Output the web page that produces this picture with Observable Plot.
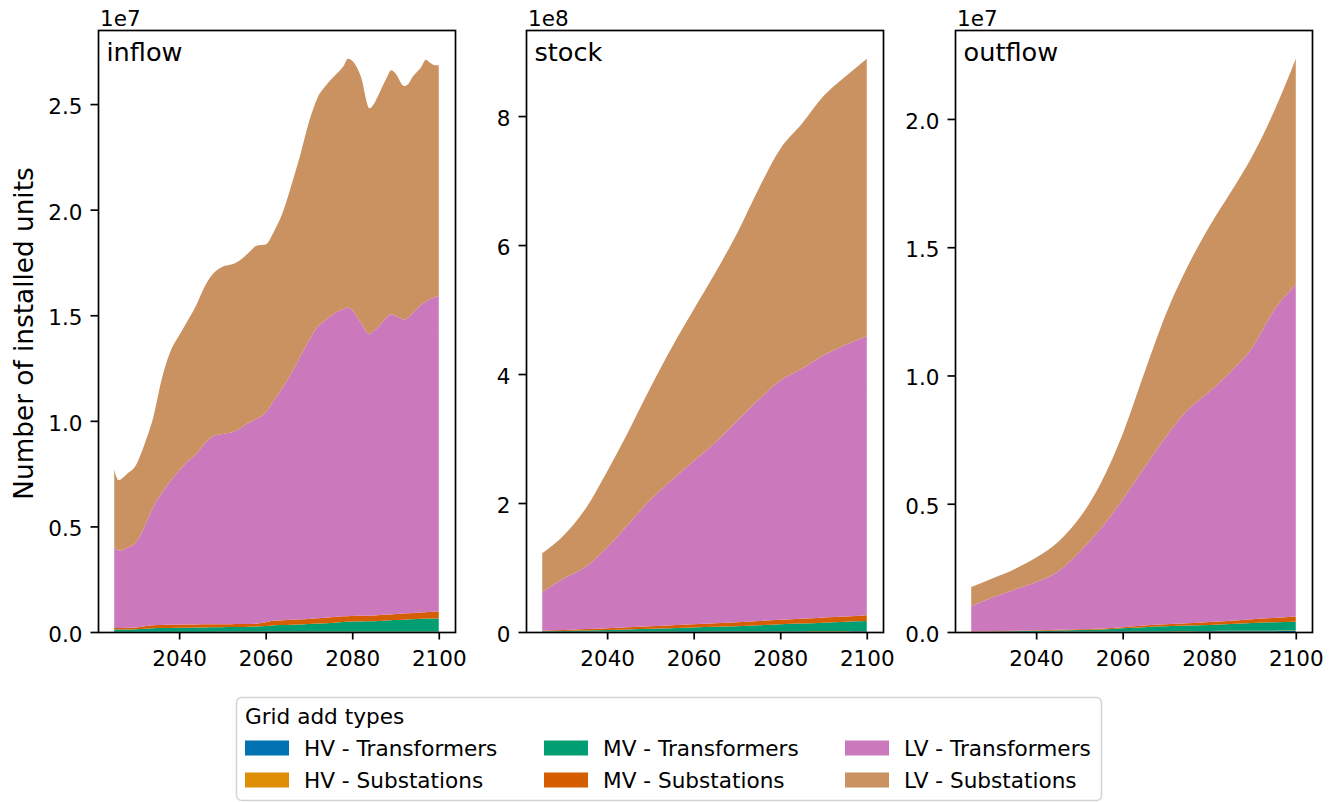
<!DOCTYPE html>
<html><head><meta charset="utf-8">
<script src="https://cdn.jsdelivr.net/npm/d3@7"></script>
<script src="https://cdn.jsdelivr.net/npm/@observablehq/plot@0.6"></script>
<style>
body{margin:0;background:#fff;}
#fig{position:relative;width:1334px;height:802px;overflow:hidden;font-family:"DejaVu Sans",sans-serif;background:#fff;}
</style></head><body><div id="fig"></div>
<script>
// ---------- shared ----------
const seriesNames = ["HV - Transformers","HV - Substations","MV - Transformers","MV - Substations","LV - Transformers","LV - Substations"];
const seriesColors = ["#0173b2","#de8f05","#029e73","#d55e00","#cc78bc","#ca9161"];
const xTicks = [2040, 2060, 2080, 2100];
const yAxisLabel = "Number of installed units";
const legendTitle = "Grid add types";

// ---------- inflow (millions of units) ----------
const inflowYears = [2025,2026,2028,2030,2032,2034,2036,2038,2040,2042,2044,2046,2048,2050,2052,2054,2056,2058,2060,2062,2064,2066,2068,2070,2072,2074,2076,2078,2079,2080,2082,2084,2085,2086,2088,2089,2090,2092,2093,2094,2096,2097,2098,2099,2100];
const inflowHVTransformers = [0.008,0.008,0.008,0.008,0.009,0.009,0.009,0.009,0.010,0.010,0.010,0.010,0.010,0.011,0.011,0.011,0.011,0.011,0.012,0.012,0.012,0.012,0.013,0.013,0.013,0.013,0.014,0.014,0.014,0.014,0.014,0.014,0.015,0.015,0.015,0.015,0.015,0.016,0.016,0.016,0.016,0.016,0.017,0.017,0.017];
const inflowHVSubstations = [0.006,0.006,0.006,0.006,0.006,0.006,0.006,0.006,0.006,0.006,0.006,0.006,0.006,0.007,0.007,0.007,0.007,0.007,0.007,0.007,0.007,0.007,0.007,0.007,0.007,0.007,0.007,0.007,0.007,0.008,0.008,0.008,0.008,0.008,0.008,0.008,0.008,0.008,0.008,0.008,0.008,0.008,0.008,0.008,0.008];
const inflowMVTransformers = [0.11,0.11,0.11,0.12,0.14,0.16,0.17,0.18,0.18,0.19,0.20,0.20,0.21,0.21,0.22,0.22,0.23,0.24,0.26,0.30,0.31,0.33,0.34,0.36,0.38,0.40,0.42,0.45,0.46,0.47,0.48,0.49,0.49,0.50,0.52,0.53,0.54,0.56,0.57,0.58,0.60,0.61,0.62,0.62,0.63];
const inflowMVSubstations = [0.07,0.07,0.08,0.08,0.12,0.15,0.15,0.15,0.15,0.15,0.14,0.15,0.14,0.14,0.13,0.14,0.13,0.14,0.18,0.22,0.23,0.23,0.24,0.24,0.25,0.26,0.27,0.27,0.27,0.27,0.27,0.26,0.27,0.27,0.28,0.28,0.29,0.29,0.29,0.30,0.30,0.30,0.30,0.31,0.31];
const inflowLVTransformers = [3.85,3.66,3.79,4.03,4.72,5.60,6.26,6.81,7.31,7.74,8.09,8.58,8.93,9.01,9.08,9.25,9.52,9.70,9.94,10.46,11.04,11.70,12.45,13.18,13.80,14.12,14.39,14.56,14.62,14.48,13.88,13.33,13.49,13.66,14.08,14.22,14.12,13.93,14.02,14.20,14.58,14.72,14.81,14.90,14.95];
const inflowLVSubstations = [3.65,3.34,3.50,3.65,3.90,4.22,5.40,6.14,6.39,6.65,7.05,7.45,7.70,7.92,7.95,7.97,8.05,8.20,7.95,8.00,8.30,8.92,9.55,10.35,10.85,11.10,11.25,11.50,11.78,11.81,11.65,10.70,10.73,10.95,11.36,11.55,11.48,11.05,11.06,11.20,11.27,11.45,11.20,10.99,10.93];
const inflowYTicks = [0, 5, 10, 15, 20, 25];

// ---------- stock (millions of units) ----------
const stockYears = [2025,2030,2035,2040,2045,2050,2055,2060,2065,2070,2075,2080,2085,2090,2095,2100];
const stockHVTransformers = [0.2,0.3,0.3,0.4,0.4,0.5,0.5,0.6,0.6,0.7,0.7,0.8,0.8,0.9,0.9,1.0];
const stockHVSubstations = [0.1,0.1,0.2,0.2,0.2,0.3,0.3,0.3,0.4,0.4,0.4,0.5,0.5,0.5,0.6,0.6];
const stockMVTransformers = [0.7,1.1,2.0,2.4,3.4,4.2,5.2,6.1,7.0,7.9,9.4,10.7,11.7,13.1,14.5,15.4];
const stockMVSubstations = [1,1.5,2,3,3.5,4,4.5,5,5.5,6,6.5,7,7.5,8,8,9];
const stockLVTransformers = [60,80,96.5,125,160.5,196,225.5,253,280.5,312,343,371,387.5,406.5,421,433];
const stockLVSubstations = [60,67,90,118,144,174,206,235,263,291,327,359,380,402,416,430];
const stockYTicks = [0, 200, 400, 600, 800];

// ---------- outflow (millions of units) ----------
const outflowYears = [2025,2030,2035,2040,2045,2050,2055,2060,2065,2070,2075,2080,2085,2090,2095,2100];
const outflowHVTransformers = [0.003,0.004,0.005,0.007,0.008,0.010,0.012,0.015,0.018,0.020,0.022,0.025,0.027,0.030,0.032,0.035];
const outflowHVSubstations = [0.002,0.003,0.004,0.005,0.006,0.007,0.008,0.010,0.012,0.013,0.014,0.015,0.017,0.018,0.020,0.021];
const outflowMVTransformers = [0.005,0.013,0.021,0.038,0.046,0.063,0.080,0.125,0.160,0.187,0.214,0.230,0.266,0.302,0.328,0.344];
const outflowMVSubstations = [0.01,0.01,0.02,0.02,0.03,0.03,0.04,0.04,0.06,0.08,0.09,0.12,0.13,0.15,0.17,0.20];
const outflowLVTransformers = [0.98,1.32,1.60,1.88,2.26,3.01,3.90,4.98,6.15,7.31,8.31,8.98,9.71,10.60,12.00,12.95];
const outflowLVSubstations = [0.75,0.75,0.80,0.95,1.15,1.32,1.78,2.55,3.70,4.79,5.60,6.43,7.00,7.47,7.75,8.80];
const outflowYTicks = [0, 5, 10, 15, 20];

// ---------- build ----------
const fig = document.getElementById("fig");
const FONT = '"DejaVu Sans", sans-serif';
const frameW = 357, frameH = 602, mTop = 30, mBottom = 50, mRight = 5;

function tidy(years, cols) {
  const out = [];
  seriesNames.forEach((s, k) => years.forEach((y, i) => out.push({year: y, series: s, value: cols[k][i]})));
  return out;
}

function panel(cfg) {
  const data = tidy(cfg.years, cfg.cols);
  const totals = cfg.years.map((_, i) => d3.sum(cfg.cols, c => c[i]));
  const yMax = d3.max(totals) * 1.05;
  const x0 = d3.min(cfg.years), x1 = d3.max(cfg.years), pad = (x1 - x0) * 0.05;
  const marks = [
    Plot.areaY(data, {x: "year", y: "value", z: "series", fill: "series", order: seriesNames, curve: "monotone-x"}),
    Plot.frame({stroke: "#000", strokeWidth: 1.7}),
    Plot.axisX({ticks: xTicks, tickFormat: d => String(d), tickSize: 7.5, tickPadding: 10.5, strokeWidth: 1.7, label: null}),
    Plot.axisY({ticks: cfg.yTicks, tickSize: 7.5, strokeWidth: 1.7, fill: "none", label: null}),
    Plot.axisY({ticks: cfg.yTicks, tickFormat: cfg.yFormat, tickSize: 0, tickPadding: 16, dy: 2.5, label: null}),
    Plot.text([cfg.offset], {text: d => d, frameAnchor: "top-left", textAnchor: "start", lineAnchor: "bottom", dx: 1.5, dy: -5, fontSize: 21.5}),
    Plot.text([cfg.title], {text: d => d, frameAnchor: "top-left", textAnchor: "start", lineAnchor: "bottom", dx: 8, dy: 30, fontSize: 25.6})
  ];
  if (cfg.ylabel) marks.push(Plot.text([cfg.ylabel], {text: d => d, frameAnchor: "left", rotate: -90, textAnchor: "middle", lineAnchor: "bottom", dx: -65.5, dy: 2, fontSize: 26.3}));
  const svg = Plot.plot({
    width: cfg.marginLeft + frameW + mRight,
    height: mTop + frameH + mBottom,
    marginLeft: cfg.marginLeft, marginRight: mRight, marginTop: mTop, marginBottom: mBottom,
    x: {domain: [x0 - pad, x1 + pad]},
    y: {domain: [0, yMax]},
    color: {domain: seriesNames, range: seriesColors},
    style: {fontFamily: FONT, fontSize: "21.5px", color: "#000", background: "transparent", overflow: "visible"},
    marks
  });
  svg.style.position = "absolute";
  svg.style.left = cfg.left + "px";
  svg.style.top = "0px";
  fig.appendChild(svg);
}

panel({title: "inflow", offset: "1e7", years: inflowYears,
  cols: [inflowHVTransformers, inflowHVSubstations, inflowMVTransformers, inflowMVSubstations, inflowLVTransformers, inflowLVSubstations],
  yTicks: inflowYTicks, yFormat: d => (d / 10).toFixed(1), left: 0, marginLeft: 98, ylabel: yAxisLabel});
panel({title: "stock", offset: "1e8", years: stockYears,
  cols: [stockHVTransformers, stockHVSubstations, stockMVTransformers, stockMVSubstations, stockLVTransformers, stockLVSubstations],
  yTicks: stockYTicks, yFormat: d => String(d / 100), left: 466, marginLeft: 60});
panel({title: "outflow", offset: "1e7", years: outflowYears,
  cols: [outflowHVTransformers, outflowHVSubstations, outflowMVTransformers, outflowMVSubstations, outflowLVTransformers, outflowLVSubstations],
  yTicks: outflowYTicks, yFormat: d => (d / 10).toFixed(1), left: 895, marginLeft: 60});

// ---------- legend ----------
const leg = d3.select(fig).append("svg")
  .attr("width", 880).attr("height", 112)
  .style("position", "absolute").style("left", "230px").style("top", "690px")
  .style("font-family", FONT);
leg.append("rect").attr("x", 6.5).attr("y", 7.5).attr("width", 865).attr("height", 103).attr("rx", 5)
  .attr("fill", "#fff").attr("stroke", "#d4d4d4").attr("stroke-width", 1.5);
leg.append("text").attr("x", 15).attr("y", 33.5).attr("font-size", 21.6).attr("fill", "#000").text(legendTitle);
const colX = [15, 314, 615], rowY = [58, 90];
seriesNames.forEach((s, i) => {
  const cx = colX[Math.floor(i / 2)], cy = rowY[i % 2];
  leg.append("rect").attr("x", cx).attr("y", cy - 7.5).attr("width", 44).attr("height", 15).attr("fill", seriesColors[i]);
  leg.append("text").attr("x", cx + 59).attr("y", cy + 7.5).attr("font-size", 21.6).attr("fill", "#000").text(s);
});
</script></body></html>
